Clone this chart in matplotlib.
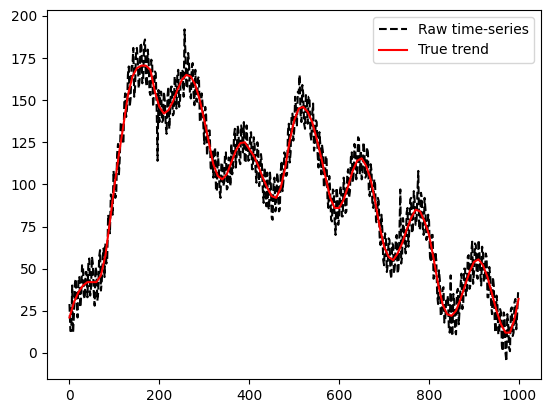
import matplotlib
matplotlib.use("Agg")
import matplotlib.pyplot as plt
import numpy as np

# True trend, read every 10 time units
trend_x = list(range(0, 1000, 10)) + [999]
trend_y = [21, 30, 36, 40, 42, 42, 42, 46, 58, 78,
           99, 118, 135, 153, 164, 169, 170.5, 170.5, 168, 155,
           146, 142, 144, 149, 156, 162, 165, 164, 159, 150,
           138, 125, 112, 105, 103, 106, 113, 120, 124.5, 125,
           121, 117, 111, 104, 98, 93, 92, 98, 110, 126,
           138, 145, 146, 143, 137, 127, 116, 104, 92, 86,
           86, 91, 99, 108, 114, 115.5, 111, 103, 90, 75,
           63, 57, 55, 59, 65, 73, 80, 85, 84, 78,
           70, 56, 41, 29, 23, 22, 25, 32, 40, 48,
           54, 55.5, 52, 45, 35, 25, 17, 12, 12, 20,
           32]

# Raw time-series, estimated at x = 0, 4, 8, ...
raw_y_a = [29, 13, 12, 41, 30, 45, 27, 52, 34, 48,
           33, 56, 39, 53, 28, 48, 36, 61, 43, 62,
           65, 56, 78, 94, 82, 102, 94, 124, 116, 137,
           124, 154, 145, 170, 151, 170, 152, 179, 173, 162,
           182, 163, 186, 158, 174, 153, 172, 154, 166, 114,
           137, 155, 138, 150, 130, 158, 144, 158, 142, 159,
           166, 146, 168, 167, 192, 157, 178, 154, 169, 154,
           168, 149, 164, 137, 148, 124, 141, 124, 132, 108,
           104, 122, 96, 111, 92, 112, 101, 119, 98, 115,
           124, 109, 133, 117, 132, 112, 131, 137, 113, 125,
           115, 131, 109, 123, 101, 121, 104, 113, 89, 105,
           107, 85, 100, 79, 104, 87, 102, 85, 114, 102,
           117, 106, 136, 119, 142, 132, 145, 155, 165, 137,
           154, 133, 150, 152, 130, 142, 120, 138, 118, 131,
           106, 119, 100, 115, 86, 96, 78, 96, 70, 93,
           81, 99, 81, 99, 84, 109, 96, 119, 105, 121,
           106, 127, 120, 105, 120, 105, 119, 93, 108, 86,
           100, 77, 90, 64, 73, 52, 69, 52, 67, 44,
           64, 52, 70, 50, 97, 57, 74, 59, 86, 73,
           92, 73, 90, 77, 108, 74, 92, 70, 85, 69,
           78, 54, 70, 46, 55, 29, 43, 22, 39, 20,
           29, 14, 46, 10, 31, 11, 38, 26, 47, 29,
           50, 36, 58, 40, 66, 48, 64, 44, 60, 40,
           60, 44, 57, 33, 46, 23, 40, 12, 29, 12,
           24, 1, 22, -5, 17, 1, 27, 12, 32, 23]

# Raw time-series, estimated at x = 2, 6, 10, ...
raw_y_b = [13, 40, 23, 44, 21, 45, 34, 52, 32, 48,
           53, 34, 57, 36, 51, 31, 57, 37, 57, 45,
           53, 82, 71, 92, 108, 92, 118, 106, 136, 127,
           149, 140, 165, 146, 170, 181, 158, 181, 157, 184,
           160, 184, 162, 180, 155, 174, 146, 167, 145, 156,
           155, 137, 155, 136, 152, 133, 158, 141, 164, 145,
           168, 150, 168, 152, 178, 158, 172, 151, 172, 147,
           150, 163, 138, 154, 134, 146, 117, 132, 110, 120,
           119, 96, 119, 96, 113, 99, 118, 97, 116, 99,
           106, 129, 110, 135, 114, 135, 119, 113, 135, 114,
           130, 109, 128, 108, 125, 99, 118, 97, 110, 87,
           87, 107, 80, 102, 84, 107, 84, 108, 96, 119,
           105, 131, 113, 140, 126, 152, 135, 154, 142, 159,
           136, 153, 136, 152, 126, 148, 123, 137, 110, 124,
           123, 98, 117, 91, 105, 79, 97, 78, 98, 76,
           97, 81, 104, 83, 106, 92, 116, 101, 124, 103,
           128, 106, 103, 125, 104, 122, 96, 112, 87, 103,
           78, 92, 69, 82, 55, 71, 48, 68, 48, 65,
           47, 68, 47, 70, 53, 80, 63, 83, 63, 91,
           71, 96, 76, 95, 73, 95, 74, 92, 67, 82,
           57, 70, 44, 60, 35, 49, 22, 38, 18, 31,
           34, 12, 14, 35, 13, 36, 17, 40, 26, 50,
           34, 57, 38, 60, 41, 65, 46, 67, 47, 63,
           42, 59, 33, 51, 29, 45, 19, 34, 11, 26,
           4, 24, 0, 23, 3, 26, 10, 30, 14, 36]

raw_x = list(range(0, 1000, 2))
raw_y = [v for pair in zip(raw_y_a, raw_y_b) for v in pair]

fig = plt.figure(figsize=(5.52, 4.13), dpi=100)
ax = fig.add_axes([47/552, 34/413, 494/552, 369/413])
ax.plot(raw_x, raw_y, 'k--', lw=1.5, label='Raw time-series')
ax.plot(trend_x, trend_y, color='red', lw=1.5, label='True trend')
ax.set_xlim(-50, 1049)
ax.set_ylim(-15.5, 203.5)
ax.set_xticks([0, 200, 400, 600, 800, 1000])
ax.set_yticks([0, 25, 50, 75, 100, 125, 150, 175, 200])
ax.legend(loc='upper right')
fig.savefig('out.png', dpi=100)
